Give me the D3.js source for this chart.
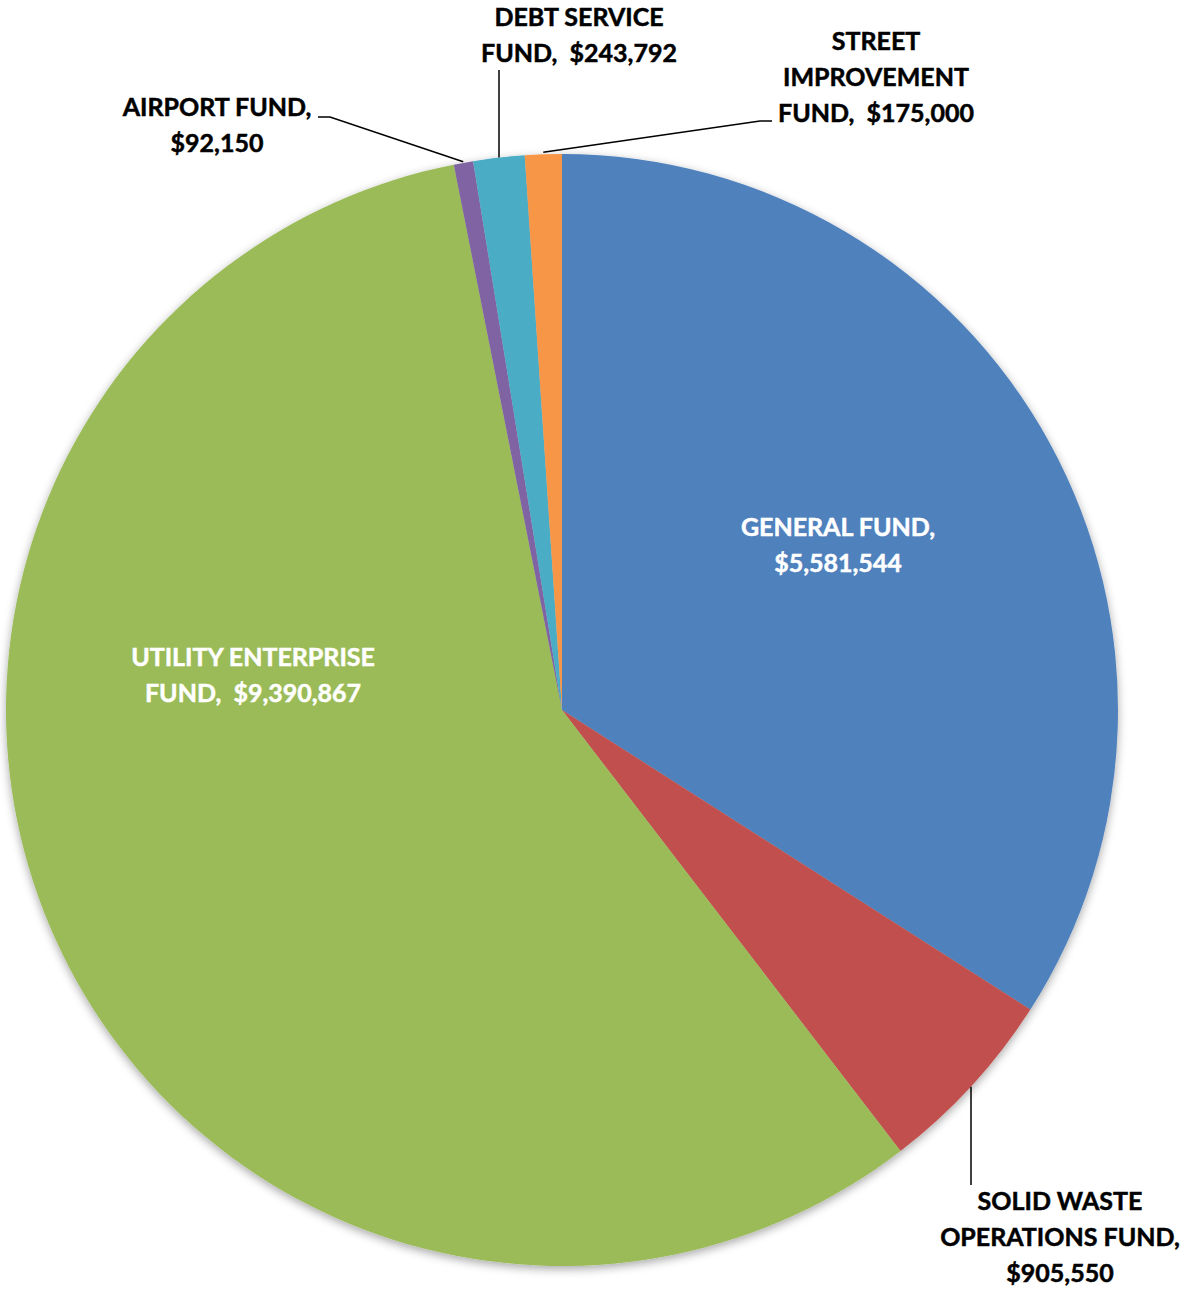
<!DOCTYPE html>
<html>
<head>
<meta charset="utf-8">
<script src="https://cdn.jsdelivr.net/npm/d3@7"></script>
<style>
  html, body { margin: 0; padding: 0; background: #fff; }
  svg text { font-family: Lato, "Open Sans", sans-serif; font-weight: 700; white-space: pre; }
</style>
</head>
<body>
<svg id="chart" width="1188" height="1289"></svg>
<script>
// Fund budgets, in drawing order clockwise from 12 o'clock
const funds = ["GENERAL FUND", "SOLID WASTE OPERATIONS FUND", "UTILITY ENTERPRISE FUND",
               "AIRPORT FUND", "DEBT SERVICE FUND", "STREET IMPROVEMENT FUND"];
const amounts = [5581544, 905550, 9390867, 92150, 243792, 175000];
const colors = ["#4F81BD", "#C0504D", "#9BBB59", "#8064A2", "#4BACC6", "#F79646"];

// Label text lines (name, value) as laid out on the chart
const labelLines = [
  ["GENERAL FUND,", "$5,581,544"],
  ["SOLID WASTE", "OPERATIONS FUND,", "$905,550"],
  ["UTILITY ENTERPRISE", "FUND,  $9,390,867"],
  ["AIRPORT FUND,", "$92,150"],
  ["DEBT SERVICE", "FUND,  $243,792"],
  ["STREET", "IMPROVEMENT", "FUND,  $175,000"]
];

const cx = 562, cy = 710, R = 556;

const svg = d3.select("#chart");
const defs = svg.append("defs");
const f = defs.append("filter").attr("id", "shadow")
  .attr("x", "-10%").attr("y", "-10%").attr("width", "120%").attr("height", "120%");
f.append("feDropShadow").attr("dx", 0).attr("dy", 3).attr("stdDeviation", 5)
  .attr("flood-color", "#000").attr("flood-opacity", 0.35);

const data = funds.map((name, i) => ({ name, value: amounts[i], color: colors[i], lines: labelLines[i] }));

const pie = d3.pie().value(d => d.value).sort(null);
const arcs = pie(data);
const arc = d3.arc().innerRadius(0).outerRadius(R);

const g = svg.append("g").attr("transform", `translate(${cx},${cy})`);

g.append("g").attr("filter", "url(#shadow)")
  .selectAll("path").data(arcs).join("path")
  .attr("d", arc)
  .attr("fill", d => d.data.color);

// Point on the rim at a given fraction through a slice
function rimPoint(a, t, r) {
  const ang = a.startAngle + (a.endAngle - a.startAngle) * t;
  return [Math.sin(ang) * r, -Math.cos(ang) * r];
}
// Point on the rim directly above/below a given x
const rimAtX = (x, sign) => [x, sign * Math.sqrt(R * R - x * x)];

// Label placement: anchor center (relative to chart center), text colour, leader path
const place = [
  { x: 276, y: -165, fill: "#fff" },
  { x: 498, y: 527, fill: "#000", leader: () => [rimAtX(409, 1), [409, 475]] },
  { x: -309, y: -35, fill: "#fff" },
  { x: -345, y: -585, fill: "#000", leader: a => { const p = rimPoint(a, 0.5, R + 1); return [p, [-232, -593], [-244, -593]]; } },
  { x: 17, y: -675, fill: "#000", leader: () => [rimAtX(-63, -1), [-63, -640]] },
  { x: 314, y: -633, fill: "#000", leader: a => { const p = rimPoint(a, 0.5, R + 2); return [p, [198, -589], [210, -589]]; } }
];

const lineH = 36;
arcs.forEach((a, i) => {
  const pl = place[i];
  if (pl.leader) {
    g.append("path")
      .attr("d", d3.line()(pl.leader(a)))
      .attr("fill", "none").attr("stroke", "#000").attr("stroke-width", 1.5);
  }
  const lines = a.data.lines;
  const t = g.append("text")
    .attr("text-anchor", "middle")
    .attr("font-size", 25)
    .attr("fill", pl.fill)
    .attr("stroke", pl.fill)
    .attr("stroke-width", 0.5);
  lines.forEach((ln, k) => {
    t.append("tspan")
      .attr("x", pl.x)
      .attr("y", pl.y + (k - (lines.length - 1) / 2) * lineH)
      .attr("dy", "0.35em")
      .text(ln);
  });
});
</script>
</body>
</html>
